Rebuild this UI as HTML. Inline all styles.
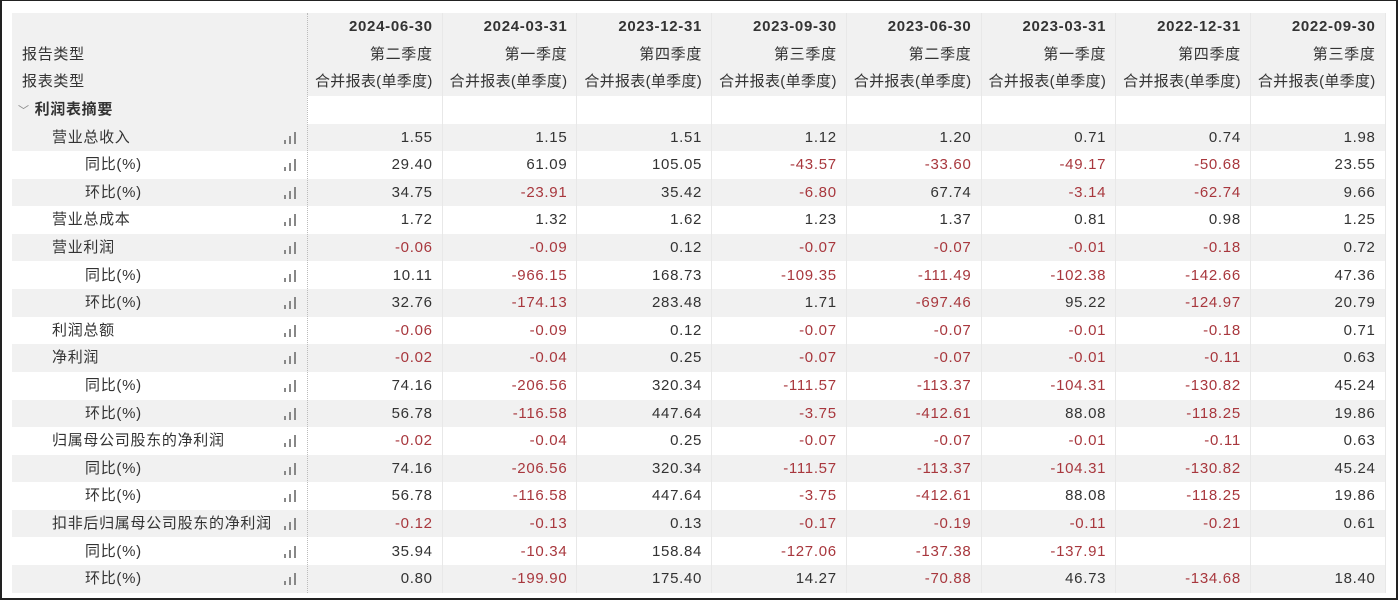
<!DOCTYPE html>
<html><head><meta charset="utf-8">
<style>
*{margin:0;padding:0;box-sizing:border-box}
body{width:1398px;height:600px;background:#fff;overflow:hidden;font-family:"Liberation Sans","Noto Sans CJK SC",sans-serif;font-size:15px;letter-spacing:0.7px;color:#333;position:relative}
#frame{position:absolute;left:0;top:0;width:1398px;height:600px;border:2px solid #222;border-top-width:1px;z-index:5}
.cell{position:absolute;height:27.6px;line-height:27.6px;white-space:nowrap}
.num{text-align:right;padding-right:9px}
.neg{color:#a8373d}
.bg{position:absolute;background:#f1f1f1}
.vsep{position:absolute;width:1px;height:580px;background:#e8e8e8}
.bars{position:absolute;width:14px;height:12px}
.bars i{position:absolute;bottom:0;width:2px;background:#888}
</style></head><body>
<div id="frame"></div>
<div id="t"></div>
<script>
const dates=["2024-06-30","2024-03-31","2023-12-31","2023-09-30","2023-06-30","2023-03-31","2022-12-31","2022-09-30"];
const quarters=["第二季度","第一季度","第四季度","第三季度","第二季度","第一季度","第四季度","第三季度"];
const labels=["营业总收入","同比(%)","环比(%)","营业总成本","营业利润","同比(%)","环比(%)","利润总额","净利润","同比(%)","环比(%)","归属母公司股东的净利润","同比(%)","环比(%)","扣非后归属母公司股东的净利润","同比(%)","环比(%)"];
const levels=[1,2,2,1,1,2,2,1,1,2,2,1,2,2,1,2,2];
const values=[
["1.55","1.15","1.51","1.12","1.20","0.71","0.74","1.98"],
["29.40","61.09","105.05","-43.57","-33.60","-49.17","-50.68","23.55"],
["34.75","-23.91","35.42","-6.80","67.74","-3.14","-62.74","9.66"],
["1.72","1.32","1.62","1.23","1.37","0.81","0.98","1.25"],
["-0.06","-0.09","0.12","-0.07","-0.07","-0.01","-0.18","0.72"],
["10.11","-966.15","168.73","-109.35","-111.49","-102.38","-142.66","47.36"],
["32.76","-174.13","283.48","1.71","-697.46","95.22","-124.97","20.79"],
["-0.06","-0.09","0.12","-0.07","-0.07","-0.01","-0.18","0.71"],
["-0.02","-0.04","0.25","-0.07","-0.07","-0.01","-0.11","0.63"],
["74.16","-206.56","320.34","-111.57","-113.37","-104.31","-130.82","45.24"],
["56.78","-116.58","447.64","-3.75","-412.61","88.08","-118.25","19.86"],
["-0.02","-0.04","0.25","-0.07","-0.07","-0.01","-0.11","0.63"],
["74.16","-206.56","320.34","-111.57","-113.37","-104.31","-130.82","45.24"],
["56.78","-116.58","447.64","-3.75","-412.61","88.08","-118.25","19.86"],
["-0.12","-0.13","0.13","-0.17","-0.19","-0.11","-0.21","0.61"],
["35.94","-10.34","158.84","-127.06","-137.38","-137.91","",""],
["0.80","-199.90","175.40","14.27","-70.88","46.73","-134.68","18.40"]];
const t=document.getElementById('t');
const L=12,LW=295,CW=134.7,TOP=13,RH=27.6,HDR=96,DTOP=123.5,R=L+LW+8*CW;
function mk(cls,x,y,w,h,txt){const d=document.createElement('div');d.className=cls;d.style.left=x+'px';d.style.top=y+'px';d.style.width=w+'px';if(h!=null)d.style.height=h+'px';if(txt!=null)d.textContent=txt;t.appendChild(d);return d;}
let b=mk('bg',L,TOP,R-L,HDR-TOP);


b=mk('bg',L,HDR,LW,DTOP-HDR);


for(let i=0;i<labels.length;i+=2){b=mk('bg',L,DTOP+i*RH,R-L,RH);

}
for(let c=0;c<=8;c++){const s=mk('vsep',L+LW+c*CW,TOP,1);if(c==0){s.style.background='none';s.style.borderLeft='1px dotted #bbb';}

}
let h=mk('cell',22,TOP+RH,200,null,'报告类型');


h=mk('cell',22,TOP+2*RH,200,null,'报表类型');


h=mk('cell',18,HDR,200,null,'');h.innerHTML='<span style="color:#888;font-size:11px">﹀</span> <b>利润表摘要</b>';


for(let c=0;c<8;c++){const x=L+LW+c*CW;
let d=mk('cell num',x,TOP,CW,null,dates[c]);d.style.fontWeight='bold';


d=mk('cell num',x,TOP+RH,CW,null,quarters[c]);


d=mk('cell num',x,TOP+2*RH,CW,null,'合并报表(单季度)');d.style.letterSpacing='0.3px';

}
labels.forEach((lab,i)=>{const y=DTOP+i*RH;
let d=mk('cell',levels[i]==1?52:85,y,230,null,lab);


const bi=mk('bars',284,y+8,14,12);bi.innerHTML='<i style="left:0;height:4px"></i><i style="left:5px;height:8px"></i><i style="left:10px;height:12px"></i>';


values[i].forEach((v,c)=>{const e=mk('cell num'+(v.startsWith('-')?' neg':''),L+LW+c*CW,y,CW,null,v);

});});
</script>
</body></html>
